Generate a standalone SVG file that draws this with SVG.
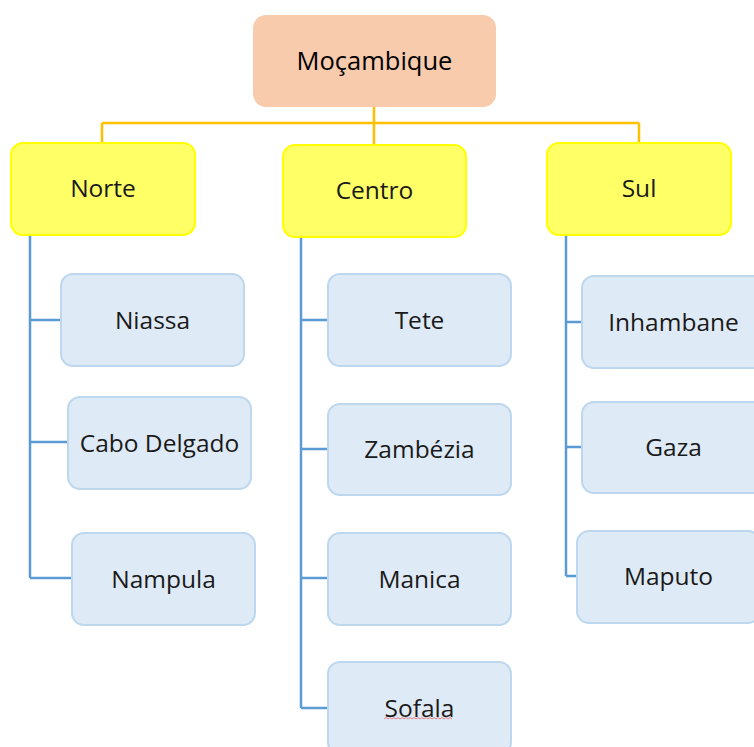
<svg xmlns="http://www.w3.org/2000/svg" width="754" height="747" viewBox="0 0 754 747">
<style>
text{font-family:"Open Sans","Noto Sans","Liberation Sans",sans-serif;font-size:24.5px;fill:#1a1a1a;text-anchor:middle;dominant-baseline:central}
.root{fill:#F8CBAD}
.l1{fill:#FFFF66;stroke:#FFFF00;stroke-width:2}
.l2{fill:#DEEAF6;stroke:#BDD7EE;stroke-width:2}
.co{fill:none;stroke:#FFC000;stroke-width:2.5}
.cb{fill:none;stroke:#5B9BD5;stroke-width:2.5}
</style>
<rect width="754" height="747" fill="#ffffff"/>
<g id="connectors">
<path class="co" d="M374,107V123M102,123H639M102,123V143M374,123V145M639,123V143"/>
<path class="cb" d="M30,235V578M30,320H61M30,442H68M30,578H72"/>
<path class="cb" d="M301,237V708M301,320H328M301,449H328M301,578H328M301,708H328"/>
<path class="cb" d="M566,235V576M566,322H582M566,447H582M566,576H577"/>
</g>
<g id="mocambique"><rect class="root" x="253" y="15" width="243" height="92" rx="13"/><text x="374.5" y="60" style="font-size:25.5px;fill:#000">Moçambique</text></g>
<g id="norte"><rect class="l1" x="11" y="143" width="184" height="92" rx="12"/><text x="103" y="187">Norte</text></g>
<g id="centro"><rect class="l1" x="283" y="145" width="183" height="92" rx="12"/><text x="374.5" y="189">Centro</text></g>
<g id="sul"><rect class="l1" x="547" y="143" width="184" height="92" rx="12"/><text x="639" y="187">Sul</text></g>
<g id="niassa"><rect class="l2" x="61" y="274" width="183" height="92" rx="12"/><text x="152.5" y="319">Niassa</text></g>
<g id="cabo-delgado"><rect class="l2" x="68" y="397" width="183" height="92" rx="12"/><text x="159.5" y="442">Cabo Delgado</text></g>
<g id="nampula"><rect class="l2" x="72" y="533" width="183" height="92" rx="12"/><text x="163.5" y="578">Nampula</text></g>
<g id="tete"><rect class="l2" x="328" y="274" width="183" height="92" rx="12"/><text x="419.5" y="319">Tete</text></g>
<g id="zambezia"><rect class="l2" x="328" y="404" width="183" height="91" rx="12"/><text x="419.5" y="448">Zambézia</text></g>
<g id="manica"><rect class="l2" x="328" y="533" width="183" height="92" rx="12"/><text x="419.5" y="578">Manica</text></g>
<g id="sofala"><rect class="l2" x="328" y="662" width="183" height="92" rx="12"/><text x="419.5" y="707">Sofala</text>
<path d="M384,719l2,-1.5l2,1.5l2,-1.5l2,1.5l2,-1.5l2,1.5l2,-1.5l2,1.5l2,-1.5l2,1.5l2,-1.5l2,1.5l2,-1.5l2,1.5l2,-1.5l2,1.5l2,-1.5l2,1.5l2,-1.5l2,1.5l2,-1.5l2,1.5l2,-1.5l2,1.5l2,-1.5l2,1.5l2,-1.5l2,1.5l2,-1.5l2,1.5l2,-1.5l2,1.5l2,-1.5l2,1.5" fill="none" stroke="#E06666" stroke-width="0.8"/></g>
<g id="inhambane"><rect class="l2" x="582" y="276" width="183" height="92" rx="12"/><text x="673.5" y="321">Inhambane</text></g>
<g id="gaza"><rect class="l2" x="582" y="402" width="183" height="91" rx="12"/><text x="673.5" y="446">Gaza</text></g>
<g id="maputo"><rect class="l2" x="577" y="531" width="183" height="92" rx="12"/><text x="668.5" y="575">Maputo</text></g>
</svg>
